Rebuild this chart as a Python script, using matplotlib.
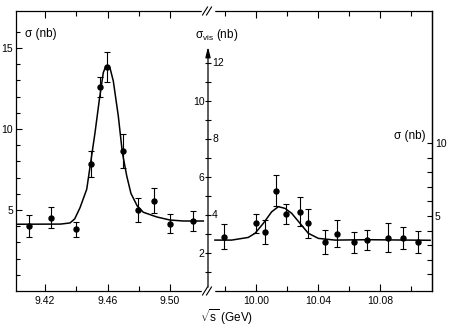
import matplotlib
matplotlib.use("Agg")
import matplotlib.pyplot as plt
from matplotlib.lines import Line2D
from matplotlib.transforms import offset_copy

plt.rcParams["font.family"] = ["Liberation Sans", "DejaVu Sans"]
plt.rcParams["mathtext.fontset"] = "custom"
plt.rcParams["mathtext.rm"] = "Liberation Sans"
plt.rcParams["mathtext.it"] = "Liberation Sans:italic"

# --- data ---------------------------------------------------------------
# Upsilon (left) : sigma in nb
LEFT_E = [9.4100, 9.4239, 9.4400, 9.4493, 9.4552, 9.4595, 9.4697, 9.4797, 9.4898, 9.5000, 9.5145]
LEFT_SIG = [4.01, 4.52, 3.81, 7.86, 12.59, 13.83, 8.64, 4.98, 5.56, 4.16, 4.32]
LEFT_ERR = [0.68, 0.65, 0.45, 0.80, 0.60, 0.93, 1.07, 0.75, 0.77, 0.59, 0.60]

LEFT_FIT_E = [9.4014, 9.4300, 9.4360, 9.4390, 9.4424, 9.4467, 9.4492, 9.4520, 9.4548,
              9.4573, 9.4587, 9.4600, 9.4616, 9.4637, 9.4669, 9.4695, 9.4723, 9.4750, 9.4790,
              9.4829, 9.4915, 9.5000, 9.5085, 9.5213]
LEFT_FIT_S = [4.12, 4.13, 4.20, 4.45, 5.14, 6.28, 7.92, 9.77, 11.83,
              13.48, 13.82, 13.90, 13.76, 12.96, 10.80, 8.54, 7.10, 6.02, 5.25,
              4.86, 4.57, 4.38, 4.32, 4.32]

# Upsilon' (right) : visible sigma in nb
RIGHT_E = [9.9795, 10.0000, 10.0060, 10.0129, 10.0194, 10.0284, 10.0333, 10.0445,
           10.0520, 10.0632, 10.0718, 10.0850, 10.0946, 10.1045]
RIGHT_SIG = [2.86, 3.56, 3.12, 5.28, 4.05, 4.18, 3.56, 2.58, 3.02, 2.56, 2.68, 2.81, 2.79, 2.58]
RIGHT_ERR = [0.67, 0.50, 0.62, 0.83, 0.54, 0.77, 0.78, 0.63, 0.70, 0.54, 0.51, 0.77, 0.60, 0.59]

RIGHT_FIT_E = [9.9735, 9.9843, 9.9950, 9.9994, 10.0047, 10.0101, 10.0144, 10.0187,
               10.0230, 10.0284, 10.0337, 10.0402, 10.0510, 10.0720, 10.1123]
RIGHT_FIT_S = [2.68, 2.68, 2.82, 3.04, 3.56, 4.17, 4.44, 4.35,
               4.09, 3.56, 3.04, 2.77, 2.68, 2.70, 2.67]

LEFT_MAJOR_X = [9.42, 9.46, 9.50]
LEFT_MINOR_X = [9.44, 9.48]
RIGHT_MAJOR_X = [10.00, 10.04, 10.08]
RIGHT_MINOR_X = [9.98, 10.02, 10.06, 10.10]
SIG_TICKS = list(range(1, 17))
SIG_LABELS = [5, 10, 15]
VIS_TICKS = list(range(1, 13))
VIS_LEFT_LABELS = [2, 6, 10]
VIS_RIGHT_LABELS = [4, 8, 12]
SIG2_TICKS = list(range(1, 11))
SIG2_LABELS = [5, 10]

W, H = 453, 327
fig = plt.figure(figsize=(W / 100, H / 100), dpi=100)
fig.patch.set_facecolor("white")

x0, xb, x1 = 16, 208, 432
ytop, ybot = 11, 291
ax1 = fig.add_axes([x0 / W, 1 - ybot / H, (xb - x0) / W, (ybot - ytop) / H])
ax2 = fig.add_axes([xb / W, 1 - ybot / H, (x1 - xb) / W, (ybot - ytop) / H])
ax3 = ax2.twinx()

lw = 0.9
for ax in (ax1, ax2, ax3):
    for s in ax.spines.values():
        s.set_linewidth(lw)

ebkw = dict(fmt="o", color="black", ms=3.6, elinewidth=0.8, capsize=2.4,
            capthick=0.8, zorder=3)

# left panel
ax1.plot(LEFT_FIT_E, LEFT_FIT_S, color="black", lw=1.1)
ax1.errorbar(LEFT_E, LEFT_SIG, yerr=LEFT_ERR, **ebkw)
ax1.set_xlim(9.40144, 9.5243)
ax1.set_ylim(0, 17.28)
ax1.spines["right"].set_visible(False)
ax1.set_xticks(LEFT_MAJOR_X)
ax1.set_xticklabels([f"{v:.2f}" for v in LEFT_MAJOR_X])
ax1.set_xticks(LEFT_MINOR_X, minor=True)
ax1.set_yticks(SIG_LABELS)
ax1.set_yticklabels([str(v) for v in SIG_LABELS])
ax1.set_yticks([v for v in SIG_TICKS if v not in SIG_LABELS], minor=True)
ax1.tick_params(axis="x", which="both", direction="in", top=True, labelsize=7.5,
                width=0.8, pad=3.5)
ax1.tick_params(axis="x", which="major", length=5)
ax1.tick_params(axis="x", which="minor", length=3.5)
ax1.tick_params(axis="y", which="both", direction="in", labelsize=7.5, width=0.8, pad=2)
ax1.tick_params(axis="y", which="major", length=4.5)
ax1.tick_params(axis="y", which="minor", length=3)

# right panel (visible cross section on the middle axis)
ax2.plot(RIGHT_FIT_E, RIGHT_FIT_S, color="black", lw=1.1)
ax2.errorbar(RIGHT_E, RIGHT_SIG, yerr=RIGHT_ERR, **ebkw)
ax2.set_xlim(9.96903, 10.1135)
ax2.set_ylim(0, 14.74)
ax2.spines["left"].set_visible(False)
ax2.set_xticks(RIGHT_MAJOR_X)
ax2.set_xticklabels([f"{v:.2f}" for v in RIGHT_MAJOR_X])
ax2.set_xticks(RIGHT_MINOR_X, minor=True)
ax2.set_yticks(VIS_TICKS)
ax2.set_yticklabels([str(v) if v in VIS_LEFT_LABELS else "" for v in VIS_TICKS])
ax2.tick_params(axis="x", which="both", direction="in", top=True, labelsize=7.5,
                width=0.8, pad=3.5)
ax2.tick_params(axis="x", which="major", length=5)
ax2.tick_params(axis="x", which="minor", length=3.5)
ax2.tick_params(axis="y", direction="inout", length=5, width=0.8, labelsize=7.5, pad=0)

ytr = ax2.get_yaxis_transform()
ax2.annotate("", xy=(0, 12.85), xytext=(0, 0.2), xycoords=ytr, textcoords=ytr,
             arrowprops=dict(arrowstyle="-|>,head_length=0.6,head_width=0.15",
                             color="black", lw=lw, shrinkA=0, shrinkB=0),
             annotation_clip=False)
rtr = offset_copy(ytr, fig=fig, x=3, y=0, units="points")
for v in VIS_RIGHT_LABELS:
    ax2.text(0, v, str(v), transform=rtr, ha="left", va="center", fontsize=7.5)

# right-hand sigma axis
ax3.set_ylim(-0.14, 19.04)
ax3.set_yticks(SIG2_TICKS)
ax3.set_yticklabels([str(v) if v in SIG2_LABELS else "" for v in SIG2_TICKS])
ax3.tick_params(axis="y", direction="in", length=3.5, width=0.8, labelsize=7.5, pad=2)
for s in ("left", "top", "bottom"):
    ax3.spines[s].set_visible(False)

# axis break marks
for yy in (0, 1):
    yc = yy * (ybot - ytop) / H + 1 - ybot / H
    fig.add_artist(Line2D([(xb - 5) / W, (xb + 5) / W], [yc, yc],
                          color="white", lw=2.5, zorder=5))
    for dx in (-3, 1):
        xa = (xb + dx) / W
        fig.add_artist(Line2D([xa - 2.5 / W, xa + 2.5 / W], [yc - 4 / H, yc + 4 / H],
                              color="black", lw=0.8, zorder=6))

# labels
fig.text(25 / W, 1 - 34 / H, "σ (nb)", fontsize=8.5, ha="left", va="center")
fig.text(195 / W, 1 - 35 / H, r"σ$_{\rm vis}$ (nb)", fontsize=8.5, ha="left", va="center")
fig.text(426 / W, 1 - 136 / H, "σ (nb)", fontsize=8.5, ha="right", va="center")
fig.text(200 / W, 1 - 317 / H, r"$\sqrt{\rm s}$ (GeV)", fontsize=8.5, ha="left", va="center")

fig.savefig("out.png", dpi=100, facecolor="white")
